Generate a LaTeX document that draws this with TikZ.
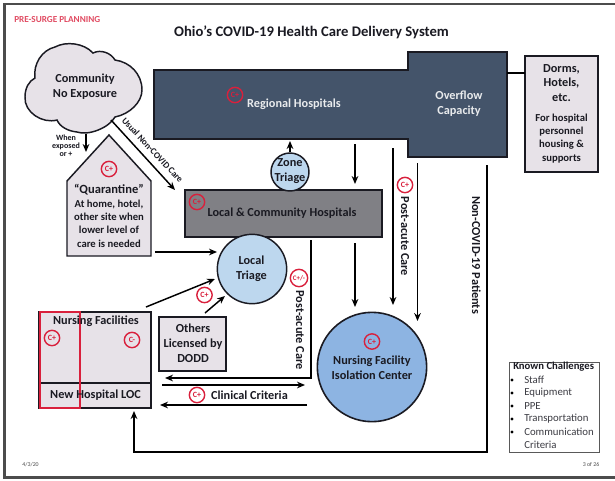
\documentclass[tikz,border=0pt]{standalone}
\usepackage{fontspec}
\setmainfont{Carlito}
\usetikzlibrary{arrows.meta}
\definecolor{navy}{HTML}{44546A}
\definecolor{lilac}{HTML}{E7E2E8}
\definecolor{midgray}{HTML}{808085}
\definecolor{paleblue}{HTML}{BDD7EE}
\definecolor{midblue}{HTML}{8DB4E2}
\definecolor{alert}{HTML}{D9203C}
\definecolor{inkdark}{HTML}{1A1A22}
\tikzset{
  x=0.75pt,y=-0.75pt,
  conn/.style={draw=black,line width=1.1pt,-{Stealth[length=6pt,width=5pt]}},
  plain/.style={draw=black,line width=1.1pt},
  box/.style={draw=inkdark,line width=1.1pt,fill=lilac},
  lbl/.style={font=\fontsize{9.2}{11.2}\selectfont\bfseries,align=center,text=inkdark,inner sep=0pt},
  lightlbl/.style={lbl,text=white!88!navy},
  badge/.style={circle,draw=alert,line width=1.05pt,fill=none,text=alert,inner sep=0pt,minimum size=11.5pt,font=\fontsize{6}{6}\selectfont\bfseries},
  rotlbl/.style={lbl,rotate=-90}
}
\begin{document}
\begin{tikzpicture}
\useasboundingbox (0,0) rectangle (615,480);
\fill[white] (0,0) rectangle (615,480);
% frame
\draw[draw=black!70,line width=2.2pt] (615,4) -- (4.5,4) -- (4.5,477.5) -- (615,477.5);
% titles
\node[inner sep=0pt,anchor=west,text=alert!80,font=\fontsize{6.9}{8}\selectfont\bfseries] (surge) at (14,20) {PRE-SURGE PLANNING};
\node[inner sep=0pt,font=\fontsize{11}{13}\selectfont\bfseries,text=inkdark] (title) at (311.5,32) {Ohio’s COVID-19 Health Care Delivery System};
% cloud
\draw[box] (35,78)
 .. controls (33,64) and (42,50) .. (55,47)
 .. controls (66,41) and (84,43) .. (93,53)
 .. controls (101,49) and (111,53) .. (115,60)
 .. controls (130,62) and (142,74) .. (142,90)
 .. controls (142,102) and (130,114) .. (115,117)
 .. controls (109,128) and (88,136) .. (77,132)
 .. controls (68,131) and (60,127) .. (57,120)
 .. controls (42,124) and (24,112) .. (25,97)
 .. controls (25,88) and (29,81) .. (35,78) -- cycle;
\node[lbl] (community) at (85,87) {Community\\No Exposure};
% regional hospitals
\draw[draw=inkdark,line width=1.2pt,fill=navy] (154,70) -- (408,70) -- (408,52) -- (507,52) -- (507,157) -- (408,157) -- (408,139) -- (154,139) -- cycle;
\node[lightlbl] (regional) at (294,104) {Regional Hospitals};
\node[lightlbl] (overflow) at (459,103.5) {Overflow\\Capacity};
\node[badge] (b1) at (235,95) {C+};
% dorms
\draw[box] (525,56) rectangle (598,172);
\coordinate (dl) at (525,73);
\coordinate (ol) at (507,73);
\draw[plain] (ol) -- (dl);
\node[lbl] (dorms) at (561.5,83) {Dorms,\\Hotels,\\etc.};
\node[lbl,font=\fontsize{8}{9.8}\selectfont\bfseries] (forh) at (561.5,138.5) {For hospital\\personnel\\housing \&\\supports};
% house
\draw[box] (109,135) -- (151,181) -- (151,256) -- (67,256) -- (67,181) -- cycle;
\node[badge] (b2) at (109,169) {C+};
\node[lbl,font=\fontsize{9.4}{11}\selectfont\bfseries] (quar) at (109,190) {“Quarantine”};
\node[lbl,font=\fontsize{8}{10}\selectfont\bfseries] (qt) at (109,223.5) {At home, hotel,\\other site when\\lower level of\\care is needed};
% local community
\draw[draw=inkdark,line width=1.2pt,fill=midgray] (185,190) rectangle (382,237);
\node[lbl] (local) at (282,213) {Local \& Community Hospitals};
\node[badge] (b3) at (197,202) {C+};
% zone triage
\node[circle,draw=inkdark,line width=1.1pt,fill=paleblue,minimum size=28.5pt,inner sep=0pt] (zone) at (290,172) {};
\node[lbl] (zonet) at (290,171.5) {Zone\\Triage};
\coordinate (regz) at (290,141);
\draw[conn] (zone.north) -- (regz);
% arrows
\coordinate (a1s) at (355,144); \coordinate (a1e) at (355,184);
\draw[conn] (a1s) -- (a1e);
% local triage
\node[circle,draw=inkdark,line width=1.1pt,fill=paleblue,minimum size=52pt,inner sep=0pt] (triage) at (252,269) {};
\node[lbl] (triaget) at (251.5,269) {Local\\Triage};
% NF isolation
\node[circle,draw=inkdark,line width=1.2pt,fill=midblue,minimum size=82pt,inner sep=0pt] (nf) at (372,367) {};
\node[lbl] (nft) at (372,367.5) {Nursing Facility\\Isolation Center};
\node[badge] (b4) at (372,341.5) {C+};
% vertical arrows
\coordinate (a2s) at (355,243); \coordinate (a2e) at (355,307);
\draw[conn] (a2s) -- (a2e);
\coordinate (a3s) at (393,148); \coordinate (a3e) at (393,305);
\draw[conn] (a3s) -- (a3e);
\coordinate (a4s) at (417.5,163); \coordinate (a4e) at (417.5,321);
\draw[conn] (a4s) -- (a4e);
\node[badge] (b5) at (405,185) {C+};
\node[rotlbl] (pa1) at (405,236.5) {Post-acute Care};
\node[rotlbl] (noncovid) at (476.5,255) {Non-COVID-19 Patients};
% nursing facilities
\draw[box] (39,312) rectangle (151,408);
\draw[draw=inkdark,line width=1.1pt] (39,383) -- (151,383);
\draw[draw=alert,line width=1.1pt] (40,312) rectangle (80,408);
\node[lbl] (nurs) at (96,321.5) {Nursing Facilities};
\node[lbl] (newh) at (95.5,395) {New Hospital LOC};
\node[badge] (b6) at (52,338) {C+};
\node[badge] (b7) at (132,340) {C-};
% others
\draw[box] (159,317) rectangle (226,371);
\node[lbl] (others) at (193,343.5) {Others\\Licensed by\\DODD};
\node[badge] (b8) at (204.5,295) {C+};
% triage arrows
\coordinate (h1) at (155,252); \coordinate (h2) at (217,252);
\draw[conn] (h1) -- (h2);
\coordinate (n1) at (146,307); \coordinate (n2) at (215,279);
\draw[conn] (n1) -- (n2);
\coordinate (o1) at (205,313); \coordinate (o2) at (225,296);
\draw[conn] (o1) -- (o2);
% post-acute left
\node[badge,minimum size=13pt,font=\fontsize{5.2}{5}\selectfont\bfseries] (b9) at (299,278) {C+/-};
\node[rotlbl] (pa2) at (300,330) {Post-acute Care};
\coordinate (v1) at (311,240); \coordinate (v2) at (311,378); \coordinate (v3) at (165,378);
\draw[conn] (v1) -- (v2) -- (v3);
\coordinate (r1) at (162,385); \coordinate (r2) at (305,385);
\draw[conn] (r1) -- (r2);
\coordinate (c1) at (307,405); \coordinate (c2) at (160,405);
\draw[conn] (c1) -- (c2);
\node[badge] (b10) at (197,395) {C+};
\node[lbl] (clin) at (249.5,395) {Clinical Criteria};
% non-covid line
\coordinate (nc1) at (487,165); \coordinate (nc2) at (487,452); \coordinate (nc3) at (134,452); \coordinate (nc4) at (134,411);
\draw[conn] (nc1) -- (nc2) -- (nc3) -- (nc4);
% usual non covid
\coordinate (u1) at (111,120); \coordinate (u2) at (175,190);
\draw[conn] (u1) -- (u2);
\node[lbl,font=\fontsize{6.8}{8}\selectfont\bfseries,rotate=-47] (usual) at (152.5,150) {Usual Non-COVID Care};
% when exposed
\coordinate (w1) at (86,134); \coordinate (w2) at (86,152);
\draw[conn] (w1) -- (w2);
\node[lbl,font=\fontsize{6}{5.8}\selectfont\bfseries] (when) at (66,145.5) {When\\exposed\\or +};
% challenges
\draw[draw=black!65,line width=0.7pt,fill=white] (509,362) rectangle (599,452);
\node[lbl,font=\fontsize{8}{9}\selectfont\bfseries,anchor=west] (kc) at (513,367) {Known Challenges};
\foreach \n/\t/\y in {s/Staff/380,e/Equipment/393,p/PPE/406,t/Transportation/419,m/Communication/432}{
  \fill[black] (512,\y) circle (1.6);
  \node[inner sep=0pt,anchor=west,text=inkdark!85,font=\fontsize{8.1}{9}\selectfont] (\n) at (524,\y) {\t};
}
\node[inner sep=0pt,anchor=west,text=inkdark!85,font=\fontsize{8.1}{9}\selectfont] (crit) at (524,445) {Criteria};
% footer
\node[inner sep=0pt,text=black!70,font=\fontsize{4.4}{5}\selectfont] (date) at (30.5,465) {4/3/20};
\node[inner sep=0pt,text=black!70,font=\fontsize{4.4}{5}\selectfont] (page) at (591,465) {3 of 26};
\end{tikzpicture}
\end{document}
